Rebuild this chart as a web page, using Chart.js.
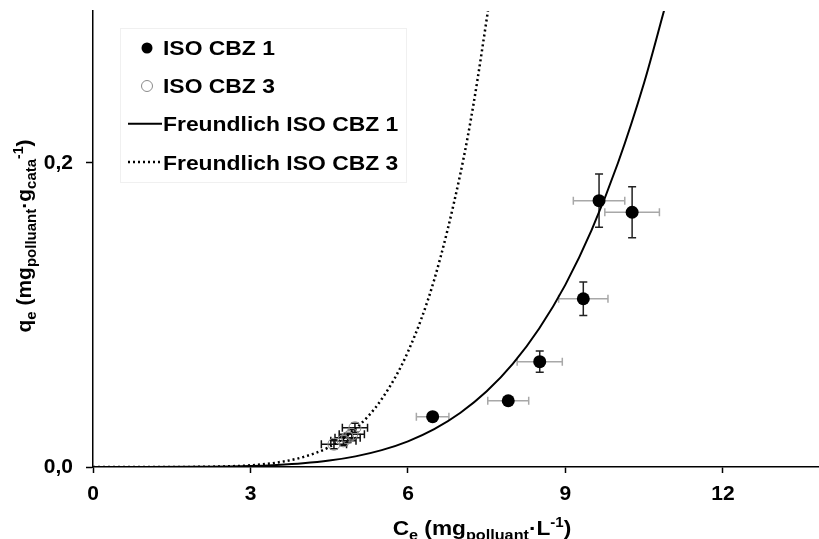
<!DOCTYPE html>
<html><head><meta charset="utf-8">
<script src="https://cdn.jsdelivr.net/npm/chart.js@4/dist/chart.umd.min.js"></script>
<style>html,body{margin:0;padding:0;background:#fff;overflow:hidden}canvas{display:block}</style>
</head><body>
<canvas id="c" width="826" height="539"></canvas>
<script>
// ---- data ----
const xTickValues = [0, 3, 6, 9, 12];
const yTickValues = [0, 0.2];
const seriesLabels = ['ISO CBZ 1', 'ISO CBZ 3', 'Freundlich ISO CBZ 1', 'Freundlich ISO CBZ 3'];

const cbz1C    = [6.47, 7.91, 8.51, 9.34, 9.64, 10.27];
const cbz1Q    = [0.0331, 0.0436, 0.0693, 0.1107, 0.1752, 0.1676];
const cbz1CErr = [0.31, 0.39, 0.43, 0.47, 0.49, 0.52];
const cbz1QErr = [0.002, 0.002, 0.007, 0.011, 0.0175, 0.0168];

const cbz3C    = [4.59, 4.77, 4.85, 4.93, 4.99];
const cbz3Q    = [0.0150, 0.0172, 0.0192, 0.0215, 0.0258];
const cbz3CErr = [0.24, 0.24, 0.24, 0.24, 0.24];
const cbz3QErr = [0.003, 0.003, 0.003, 0.003, 0.003];

const fit1C = [0, 1, 2, 3, 3.5, 4, 4.5, 5, 5.5, 6, 6.5, 7, 7.5, 8, 8.5, 9, 9.5, 10, 10.5, 10.9];
const fit1Q = [0, 0.0000, 0.0001, 0.0006, 0.0013, 0.0024, 0.0042, 0.0070, 0.0111, 0.0169, 0.0249, 0.0357, 0.0498, 0.0680, 0.0911, 0.120, 0.156, 0.200, 0.253, 0.303];
const fit3C = [0, 1, 2, 2.5, 3, 3.5, 4, 4.5, 5, 5.5, 6, 6.5, 7, 7.25, 7.55];
const fit3Q = [0, 0.0000, 0.0001, 0.0004, 0.0011, 0.0029, 0.0065, 0.0132, 0.0251, 0.0447, 0.0758, 0.1232, 0.1932, 0.239, 0.306];

const toPts = (xs, ys) => xs.map((x, i) => ({x: x, y: ys[i]}));
const FONT = "'Liberation Sans', Arial, sans-serif";

const errorBars = {
  id: 'errorBars',
  beforeDatasetsDraw(chart) {
    const ctx = chart.ctx, xs = chart.scales.x, ys = chart.scales.y;
    const sets = [
      {c: cbz1C, q: cbz1Q, ce: cbz1CErr, qe: cbz1QErr, hc: '#a8a8a8', vc: '#222'},
      {c: cbz3C, q: cbz3Q, ce: cbz3CErr, qe: cbz3QErr, hc: '#111', vc: '#111'}
    ];
    ctx.save();
    ctx.lineWidth = 1.5;
    const cap = 4;
    sets.forEach(s => {
      s.c.forEach((c, i) => {
        const px = xs.getPixelForValue(c), py = ys.getPixelForValue(s.q[i]);
        const x0 = xs.getPixelForValue(c - s.ce[i]), x1 = xs.getPixelForValue(c + s.ce[i]);
        const y0 = ys.getPixelForValue(s.q[i] - s.qe[i]), y1 = ys.getPixelForValue(s.q[i] + s.qe[i]);
        ctx.strokeStyle = s.hc;
        ctx.beginPath();
        ctx.moveTo(x0, py); ctx.lineTo(x1, py);
        ctx.moveTo(x0, py - cap); ctx.lineTo(x0, py + cap);
        ctx.moveTo(x1, py - cap); ctx.lineTo(x1, py + cap);
        ctx.stroke();
        ctx.strokeStyle = s.vc;
        ctx.beginPath();
        ctx.moveTo(px, y0); ctx.lineTo(px, y1);
        ctx.moveTo(px - cap, y0); ctx.lineTo(px + cap, y0);
        ctx.moveTo(px - cap, y1); ctx.lineTo(px + cap, y1);
        ctx.stroke();
      });
    });
    ctx.restore();
  }
};

function drawRich(ctx, parts, x, y, align, sx) {
  // parts: [text, size, dy]; sx = horizontal stretch
  let total = 0;
  parts.forEach(p => { ctx.font = 'bold ' + p[1] + 'px ' + FONT; total += ctx.measureText(p[0]).width; });
  ctx.save();
  ctx.translate(x, y);
  ctx.scale(sx, 1);
  let cx = align === 'center' ? -total / 2 : 0;
  parts.forEach(p => {
    ctx.font = 'bold ' + p[1] + 'px ' + FONT;
    ctx.fillText(p[0], cx, p[2]);
    cx += ctx.measureText(p[0]).width;
  });
  ctx.restore();
}

const decorations = {
  id: 'decorations',
  afterDraw(chart) {
    const ctx = chart.ctx;
    ctx.save();
    ctx.fillStyle = '#000';
    ctx.textAlign = 'left';
    ctx.textBaseline = 'alphabetic';
    // x title
    drawRich(ctx, [['C', 21, 0], ['e', 15, 5], [' (mg', 21, 0], ['polluant', 15, 5], ['·L', 21, 0], ['-1', 14, -8], [')', 21, 0]], 482, 535, 'center', 1.08);
    // y title
    ctx.translate(31, 236);
    ctx.rotate(-Math.PI / 2);
    drawRich(ctx, [['q', 21, 0], ['e', 15, 5], [' (mg', 21, 0], ['polluant', 15, 5], ['·g', 21, 0], ['cata', 15, 5], ['-1', 14, -8], [')', 21, 0]], 0, 0, 'center', 1.0);
    ctx.restore();

    // legend
    ctx.save();
    ctx.strokeStyle = '#f0f0f0';
    ctx.lineWidth = 1;
    ctx.strokeRect(120.5, 28.5, 286, 154);
    ctx.fillStyle = '#000';
    ctx.textBaseline = 'alphabetic';
    const baselines = [55, 93, 131, 169.5];
    const mids = [48, 86, 123.7, 162];
    seriesLabels.forEach((t, i) => {
      ctx.save();
      ctx.translate(163, baselines[i]);
      ctx.scale(1.09, 1);
      ctx.font = 'bold 21px ' + FONT;
      ctx.fillText(t, 0, 0);
      ctx.restore();
    });
    ctx.beginPath(); ctx.arc(147, mids[0], 5.5, 0, Math.PI * 2); ctx.fill();
    ctx.strokeStyle = '#8a8a8a'; ctx.lineWidth = 1;
    ctx.beginPath(); ctx.arc(147, mids[1], 5.5, 0, Math.PI * 2); ctx.stroke();
    ctx.strokeStyle = '#000'; ctx.lineWidth = 2;
    ctx.beginPath(); ctx.moveTo(128, mids[2]); ctx.lineTo(162, mids[2]); ctx.stroke();
    ctx.lineWidth = 2.5; ctx.setLineDash([2, 3]);
    ctx.beginPath(); ctx.moveTo(128, mids[3]); ctx.lineTo(162, mids[3]); ctx.stroke();
    ctx.restore();
  }
};

const tickFont = {family: FONT, size: 21, weight: 'bold'};

new Chart(document.getElementById('c'), {
  type: 'scatter',
  data: {
    datasets: [
      {label: seriesLabels[0], data: toPts(cbz1C, cbz1Q), pointRadius: 6.5, pointHoverRadius: 6.5,
       backgroundColor: '#000', borderColor: '#000', borderWidth: 0},
      {label: seriesLabels[1], data: toPts(cbz3C, cbz3Q), pointRadius: 6, pointHoverRadius: 6,
       backgroundColor: 'rgba(0,0,0,0)', borderColor: '#8a8a8a', borderWidth: 1},
      {label: seriesLabels[2], type: 'line', data: toPts(fit1C, fit1Q), borderColor: '#000', borderWidth: 2,
       pointRadius: 0, cubicInterpolationMode: 'monotone', fill: false},
      {label: seriesLabels[3], type: 'line', data: toPts(fit3C, fit3Q), borderColor: '#000', borderWidth: 2.5,
       borderDash: [2, 3], pointRadius: 0, cubicInterpolationMode: 'monotone', fill: false}
    ]
  },
  options: {
    responsive: false,
    animation: false,
    layout: {padding: {top: 11, left: 0, right: 0, bottom: 0}},
    plugins: {legend: {display: false}, tooltip: {enabled: false}, title: {display: false}},
    scales: {
      x: {
        type: 'linear', min: 0, max: 13.83,
        afterBuildTicks: s => { s.ticks = xTickValues.map(v => ({value: v})); },
        afterFit: s => { s.height = 72; s.paddingLeft = 0; s.paddingRight = 0; },
        ticks: {font: tickFont, color: '#000', padding: 9, maxRotation: 0, callback: v => String(v)},
        grid: {drawOnChartArea: false, drawTicks: true, tickLength: 6, tickColor: '#000', tickWidth: 1.5},
        border: {display: true, color: '#000', width: 1.5}
      },
      y: {
        type: 'linear', min: 0, max: 0.3,
        afterBuildTicks: s => { s.ticks = yTickValues.map(v => ({value: v})); },
        afterFit: s => { s.width = 93; s.paddingTop = 0; s.paddingBottom = 0; },
        ticks: {font: tickFont, color: '#000', padding: 13, callback: v => v.toFixed(1).replace('.', ',')},
        grid: {drawOnChartArea: false, drawTicks: true, tickLength: 7, tickColor: '#000', tickWidth: 1.5},
        border: {display: true, color: '#000', width: 1.5}
      }
    }
  },
  plugins: [errorBars, decorations]
});
</script>
</body></html>
